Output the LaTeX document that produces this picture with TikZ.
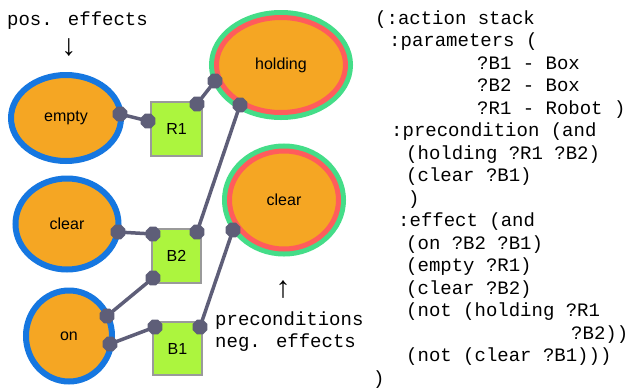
\documentclass[tikz,border=0pt]{standalone}
\usepackage{fontspec}
\setmainfont{Liberation Sans}
\newfontfamily\codefont{Liberation Mono}
\usetikzlibrary{shapes.geometric}
\definecolor{orfill}{HTML}{F5A623}
\definecolor{blring}{HTML}{1677E0}
\definecolor{grring}{HTML}{44DD88}
\definecolor{rdring}{HTML}{FF5C5C}
\definecolor{boxfill}{HTML}{ACF53E}
\definecolor{boxline}{HTML}{9A9A9A}
\definecolor{dotcol}{HTML}{5E5E78}
\pgfdeclarelayer{front}
\pgfsetlayers{main,front}
\begin{document}
\begin{tikzpicture}[x=1pt,y=-1pt,
  lbl/.style={font=\fontsize{16}{18}\selectfont},
  posell/.style={ellipse, inner sep=0pt, fill=orfill, draw=blring, line width=6pt, lbl},
  preell/.style={ellipse, inner sep=0pt, fill=orfill, draw=rdring, line width=5pt,
     preaction={draw=grring, line width=15pt}, lbl},
  objbox/.style={rectangle, inner sep=0pt, fill=boxfill, draw=boxline, line width=1.5pt, lbl},
  dotnode/.style={regular polygon, regular polygon sides=8, fill=dotcol, inner sep=0pt, minimum size=16pt},
  conn/.style={draw=dotcol, line width=3.5pt},
  code/.style={anchor=base west, inner sep=0pt, font=\codefont\fontsize{19}{22}\selectfont},
  note/.style={inner sep=0pt, font=\codefont\fontsize{19}{22}\selectfont},
  arrowtxt/.style={inner sep=0pt, font=\codefont\fontsize{30}{32}\selectfont}]
\useasboundingbox (0,0) rectangle (632,389);
\fill[white] (0,0) rectangle (632,389);

% predicate nodes
\node[posell, minimum width=110pt, minimum height=86pt] (empty) at (66,118) {empty};
\node[posell, minimum width=103pt, minimum height=91pt] (clearl) at (67,224) {clear};
\node[posell, minimum width=86pt, minimum height=91pt] (on) at (69,336) {on};
\node[preell, minimum width=129pt, minimum height=95pt] (holding) at (281,65) {holding};
\node[preell, minimum width=109pt, minimum height=98pt] (clearr) at (284,200) {clear};

% object boxes
\node[objbox, minimum width=51pt, minimum height=54pt] (R1) at (176.5,129) {R1};
\node[objbox, minimum width=49pt, minimum height=54pt] (B2) at (176.5,256) {B2};
\node[objbox, minimum width=49pt, minimum height=53pt] (B1) at (177.5,348.5) {B1};

% ports
\begin{pgfonlayer}{front}
\node[dotnode] (pe) at (120,114) {};
\node[dotnode] (pr1a) at (148,121) {};
\node[dotnode] (pr1b) at (197,104) {};
\node[dotnode] (ph1) at (215,81) {};
\node[dotnode] (ph2) at (240,105) {};
\node[dotnode] (pb2c) at (197,232) {};
\node[dotnode] (pcl) at (118,232) {};
\node[dotnode] (pb2a) at (153,234) {};
\node[dotnode] (pb2b) at (153,278) {};
\node[dotnode] (pon1) at (107,316) {};
\node[dotnode] (pon2) at (110,344) {};
\node[dotnode] (pb1a) at (155,327) {};
\node[dotnode] (pb1b) at (200,327) {};
\node[dotnode] (pcr) at (233,230) {};
\end{pgfonlayer}

% connectors
\draw[conn] (pe.center) -- (pr1a.center);
\draw[conn] (pr1b.center) -- (ph1.center);
\draw[conn] (ph2.center) -- (pb2c.center);
\draw[conn] (pcl.center) -- (pb2a.center);
\draw[conn] (pb2b.center) -- (pon1.center);
\draw[conn] (pon2.center) -- (pb1a.center);
\draw[conn] (pb1b.center) -- (pcr.center);

% annotations
\node[note, anchor=base west] (posfx) at (7,25) {pos. effects};
\node[arrowtxt] (downarr) at (69,48) {↓};
\node[arrowtxt] (uparr) at (283,290) {↑};
\node[note, anchor=base west] (precond) at (215,325) {preconditions};
\node[note, anchor=base west] (negfx) at (215,347) {neg. effects};

% PDDL code
\node[code] (c1) at (375,24) {(:action stack};
\node[code] (c2) at (389,46.5) {:parameters (};
\node[code] (c3) at (477,69) {?B1 - Box};
\node[code] (c4) at (477,91.5) {?B2 - Box};
\node[code] (c5) at (477,114) {?R1 - Robot )};
\node[code] (c6) at (391,136.5) {:precondition (and};
\node[code] (c7) at (406,159) {(holding ?R1 ?B2)};
\node[code] (c8) at (406,181.5) {(clear ?B1)};
\node[code] (c9) at (408,204) {)};
\node[code] (c10) at (398,226.5) {:effect (and};
\node[code] (c11) at (406,249) {(on ?B2 ?B1)};
\node[code] (c12) at (406,271.5) {(empty ?R1)};
\node[code] (c13) at (406,294) {(clear ?B2)};
\node[code] (c14) at (406,316.5) {(not (holding ?R1};
\node[code] (c15) at (571,339) {?B2))};
\node[code] (c16) at (406,361.5) {(not (clear ?B1)))};
\node[code] (c17) at (373,384) {)};
\end{tikzpicture}
\end{document}
